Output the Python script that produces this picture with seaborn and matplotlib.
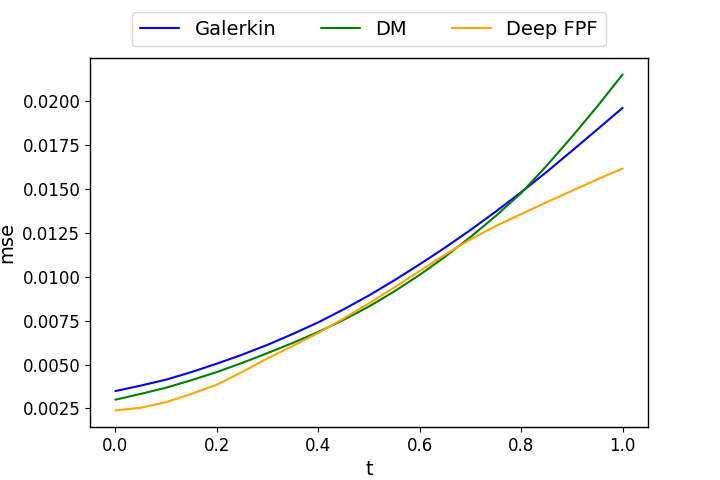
import numpy as np
import pandas as pd
import matplotlib
matplotlib.use("Agg")
import matplotlib.pyplot as plt
import seaborn as sb

# valores (t cada 0.05)
t = [0.00, 0.05, 0.10, 0.15, 0.20, 0.25, 0.30, 0.35, 0.40, 0.45, 0.50,
     0.55, 0.60, 0.65, 0.70, 0.75, 0.80, 0.85, 0.90, 0.95, 1.00]

galerkin = [0.00349, 0.00380, 0.00414, 0.00457, 0.00505, 0.00556, 0.00612, 0.00674, 0.00740, 0.00814, 0.00893,
            0.00979, 0.01070, 0.01165, 0.01265, 0.01370, 0.01480, 0.01595, 0.01715, 0.01837, 0.01960]

dm = [0.00300, 0.00333, 0.00368, 0.00411, 0.00457, 0.00509, 0.00565, 0.00623, 0.00685, 0.00754, 0.00830,
      0.00916, 0.01010, 0.01113, 0.01225, 0.01345, 0.01475, 0.01630, 0.01795, 0.01968, 0.02150]

deep_fpf = [0.00239, 0.00254, 0.00286, 0.00333, 0.00385, 0.00458, 0.00535, 0.00606, 0.00680, 0.00762, 0.00848,
            0.00938, 0.01032, 0.01125, 0.01212, 0.01288, 0.01355, 0.01423, 0.01488, 0.01553, 0.01615]

METODOS = ['Galerkin', 'DM', 'Deep FPF']
COLORES = {'Galerkin': 'blue', 'DM': 'green', 'Deep FPF': 'orange'}

df = pd.DataFrame({'t': t, 'Galerkin': galerkin, 'DM': dm, 'Deep FPF': deep_fpf})
df_largo = df.melt(id_vars='t', value_vars=METODOS, var_name='metodo', value_name='mse')

sb.set_style('white', {'text.color': 'black', 'axes.labelcolor': 'black',
                       'xtick.color': 'black', 'ytick.color': 'black', 'axes.edgecolor': 'black'})
plt.rcParams['font.family'] = ['DejaVu Sans']

fig, ax = plt.subplots(1, 1, figsize=(7.2, 4.8), dpi=100)
sb.lineplot(data=df_largo, x='t', y='mse', hue='metodo', palette=COLORES, ax=ax, linewidth=1.5)

for s in ax.spines.values():
    s.set_linewidth(1.0)
ax.tick_params(axis='both', which='major', labelsize=12, length=3.5, width=0.8, direction='out',
               bottom=True, left=True, color='black', labelcolor='black')
ax.set_xlabel('t', fontsize=14)
ax.set_ylabel('mse', fontsize=14)
ax.set_xticks([0.0, 0.2, 0.4, 0.6, 0.8, 1.0])
ax.set_yticks([0.0025, 0.0050, 0.0075, 0.0100, 0.0125, 0.0150, 0.0175, 0.0200])
ax.set_yticklabels(['%.4f' % v for v in ax.get_yticks()])

ax.legend(loc='upper center', bbox_to_anchor=(0.5, 1.15), ncol=3, fontsize=14, title=None,
          columnspacing=2.3)

fig.subplots_adjust(left=0.125, right=0.9, bottom=0.11, top=0.88)
plt.savefig('out.png', dpi=100)
